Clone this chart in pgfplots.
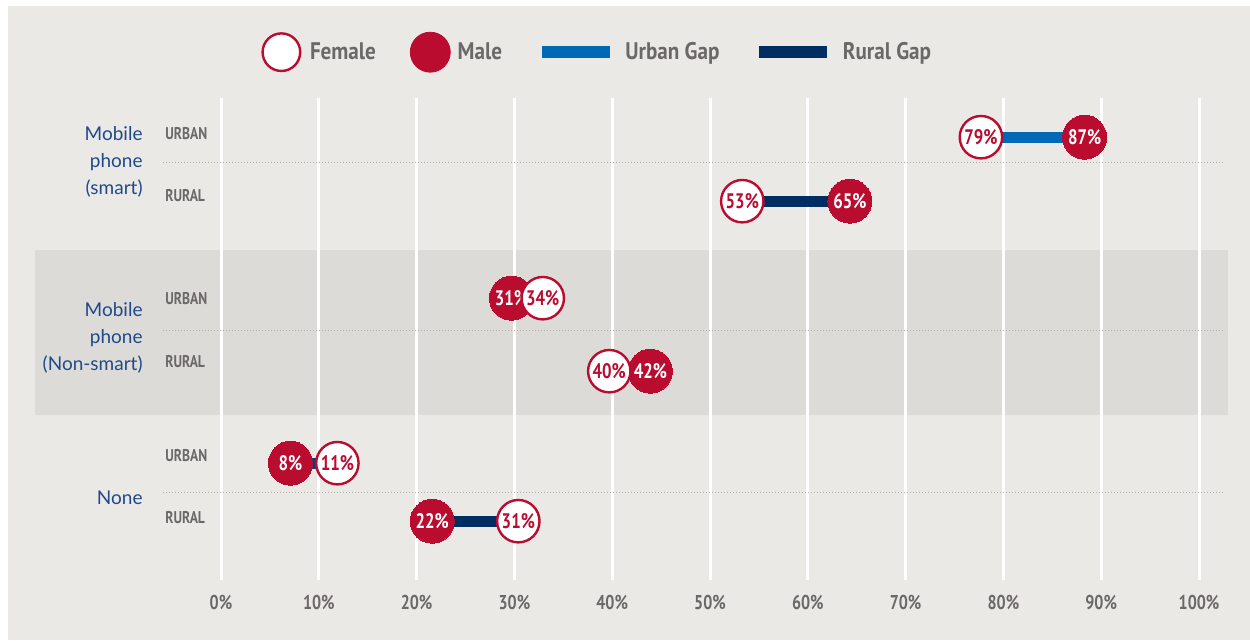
\documentclass[border=0pt]{standalone}
\usepackage{pgfplots}
\pgfplotsset{compat=1.18}
\usepackage{pgfplotstable}
\usepackage{fontspec}
\setmainfont{Lato}
\newfontfamily\cond{PT Sans}[FakeStretch=0.8]
\newfontfamily\condb{PT Sans}[FakeStretch=0.88]
\definecolor{bg}{HTML}{EBE9E6}
\definecolor{band}{HTML}{DDDBD8}
\definecolor{dred}{HTML}{BA0C2F}
\definecolor{urbanc}{HTML}{0068B5}
\definecolor{ruralc}{HTML}{002D62}
\definecolor{catblue}{HTML}{1F4A8A}
\definecolor{tgray}{HTML}{6B6868}
\definecolor{dotc}{HTML}{B3B0AD}

% y = row position (drawing units), f = female, m = male (percent, as drawn)
\pgfplotstableread{
y   f     m     fl  ml
503 77.7  88.3  79  87
439 53.3  64.3  53  65
342 32.9  29.7  34  31
269 39.7  43.9  40  42
177 11.9  7.1   11  8
119 30.4  21.6  31  22
}\dumbbell

\tikzset{rowlab/.style={anchor=west, inner sep=0pt, text=tgray, font=\cond\bfseries\fontsize{8.5}{10}\selectfont},
  catlab/.style={anchor=east, inner sep=0pt, align=right, text=catblue, font=\fontsize{9.5}{13.5}\selectfont}}

\begin{document}
\begin{tikzpicture}
\begin{axis}[
  set layers,
  scale only axis, width=625pt, height=320pt,
  xmin=-22.597, xmax=105.215, ymin=0, ymax=640,
  axis line style={draw=none}, major tick length=0pt,
  ytick=\empty,
  xtick={0,10,...,100},
  xticklabels={0\%,10\%,20\%,30\%,40\%,50\%,60\%,70\%,80\%,90\%,100\%},
  xticklabel style={font=\cond\bfseries\fontsize{10}{12}\selectfont, text=tgray, anchor=center, yshift=19pt},
  clip=false,
  legend columns=4,
  legend cell align=left,
  legend style={at={(axis cs:4.09,588)}, anchor=west, draw=none, fill=none, inner sep=0pt,
    font=\condb\bfseries\fontsize{12}{14}\selectfont, text=tgray,
    /tikz/every even column/.append style={column sep=15pt}},
]
\begin{pgfonlayer}{axis background}
% background
\fill[bg] (axis cs:-21.78,0) rectangle (axis cs:105.215,634);
\fill[band] (axis cs:-19.02,225) rectangle (axis cs:102.97,390);
\end{pgfonlayer}
% grid lines
\pgfplotsinvokeforeach{0,10,...,100}{
  \draw[white, line width=1.5pt] (axis cs:#1,60) -- (axis cs:#1,542);
}
% dotted separators
\pgfplotsinvokeforeach{478,310,148}{
  \draw[dotc, densely dotted, line width=0.5pt] (axis cs:-5.93,#1) -- (axis cs:102.66,#1);
}

% legend entries
\addlegendimage{legend image code/.code={\draw[dred,fill=white,line width=1.2pt] (9.4pt,0pt) circle (9.4pt); \path (21.5pt,0pt);}}
\addlegendentry{Female}
\addlegendimage{legend image code/.code={\fill[dred] (10pt,0pt) circle (10pt); \path (21.5pt,0pt);}}
\addlegendentry{Male}
\addlegendimage{legend image code/.code={\draw[urbanc,line width=6pt] (0pt,0pt) -- (34pt,0pt); \path (39.5pt,0pt);}}
\addlegendentry{Urban Gap}
\addlegendimage{legend image code/.code={\draw[ruralc,line width=6pt] (0pt,0pt) -- (34pt,0pt); \path (39.5pt,0pt);}}
\addlegendentry{Rural Gap}

% gap lines
\addplot[urbanc, line width=5.5pt, forget plot] coordinates {(77.7,503) (88.3,503)};
\addplot[ruralc, line width=5.5pt, forget plot] coordinates {(53.3,439) (64.3,439)};
\addplot[urbanc, line width=5.5pt, forget plot] coordinates {(32.9,342) (29.7,342)};
\addplot[ruralc, line width=5.5pt, forget plot] coordinates {(39.7,269) (43.9,269)};
\addplot[ruralc!70!urbanc, line width=5.5pt, forget plot] coordinates {(11.9,177) (7.1,177)};
\addplot[ruralc, line width=5.5pt, forget plot] coordinates {(30.4,119) (21.6,119)};

% male circles
\addplot[only marks, mark=*, mark size=11pt, mark options={fill=dred, draw=dred, line width=0pt}, forget plot,
  point meta=explicit symbolic,
  nodes near coords={\pgfplotspointmeta\%},
  nodes near coords style={anchor=center, text=white, font=\cond\bfseries\fontsize{10.5}{12}\selectfont}]
  table[x=m, y=y, meta=ml] {\dumbbell};
% female circles
\addplot[only marks, mark=*, mark size=10.6pt, mark options={fill=white, draw=dred, line width=1.2pt}, forget plot,
  point meta=explicit symbolic,
  nodes near coords={\pgfplotspointmeta\%},
  nodes near coords style={anchor=center, text=dred, font=\cond\bfseries\fontsize{10.5}{12}\selectfont}]
  table[x=f, y=y, meta=fl] {\dumbbell};

% row labels
\node[rowlab] at (axis cs:-5.73,507) {URBAN};
\node[rowlab] at (axis cs:-5.73,445) {RURAL};
\node[rowlab] at (axis cs:-5.73,342) {URBAN};
\node[rowlab] at (axis cs:-5.73,279) {RURAL};
\node[rowlab] at (axis cs:-5.73,185) {URBAN};
\node[rowlab] at (axis cs:-5.73,123) {RURAL};
% category labels
\node[catlab] at (axis cs:-7.98,478) {Mobile\\phone\\(smart)};
\node[catlab] at (axis cs:-7.98,302) {Mobile\\phone\\(Non-smart)};
\node[catlab] at (axis cs:-7.98,142) {None};
\end{axis}
\end{tikzpicture}
\end{document}
